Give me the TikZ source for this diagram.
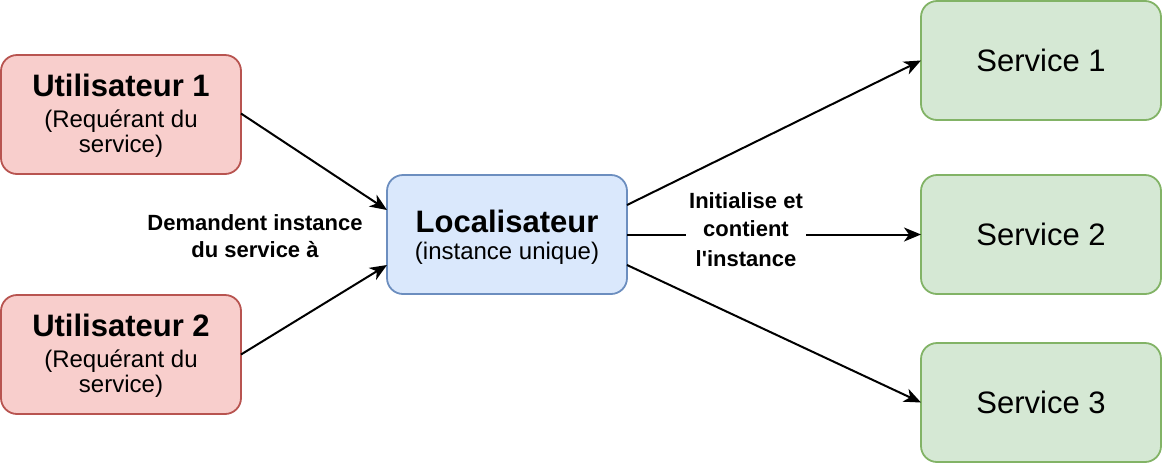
\documentclass[tikz,border=0pt]{standalone}
\usepackage{fontspec}
\setmainfont{Liberation Sans}
\usetikzlibrary{arrows.meta}
\definecolor{redfill}{HTML}{F8CECC}
\definecolor{redline}{HTML}{B85450}
\definecolor{bluefill}{HTML}{DAE8FC}
\definecolor{blueline}{HTML}{6C8EBF}
\definecolor{greenfill}{HTML}{D5E8D4}
\definecolor{greenline}{HTML}{82B366}
\tikzset{
  basebox/.style={draw, line width=1.8pt, rounded corners=16pt, minimum width=240pt, minimum height=119pt, outer sep=0pt, inner sep=0pt, align=center, text=black},
  userbox/.style={basebox, fill=redfill, draw=redline, font=\fontsize{24}{25.5}\selectfont},
  locbox/.style={basebox, fill=bluefill, draw=blueline, font=\fontsize{24}{25}\selectfont},
  servbox/.style={basebox, fill=greenfill, draw=greenline, font=\fontsize{31}{36}\selectfont},
  conn/.style={draw=black, line width=2pt, -{Stealth[length=17pt, width=14pt, inset=5pt]}},
  lbl/.style={font=\fontsize{22}{27}\selectfont\bfseries, align=center, inner sep=0pt}
}
\newcommand{\boxtitle}[2]{{\fontsize{31}{36}\selectfont\bfseries\rule{0pt}{#1}#2}}
\begin{document}
\begin{tikzpicture}[x=1pt, y=-1pt]
\useasboundingbox (0,0) rectangle (1162,464);
\node[userbox] (u1) at (121,114.5) {\boxtitle{25pt}{Utilisateur 1}\\[5pt](Requérant du\\service)};
\node[userbox] (u2) at (121,354.5) {\boxtitle{25pt}{Utilisateur 2}\\[5pt](Requérant du\\service)};
\node[locbox] (loc) at (507,234.5) {\boxtitle{27pt}{Localisateur}\\[2pt](instance unique)};
\node[servbox] (s1) at (1041,60.5) {Service 1};
\node[servbox] (s2) at (1041,234.5) {Service 2};
\node[servbox] (s3) at (1041,402.5) {Service 3};

\draw[conn] ([yshift=1pt]u1.east) -- ([yshift=24.5pt]loc.west);
\draw[conn] (u2.east) -- ([yshift=-30.5pt]loc.west);
\node[lbl] (lreq) at (255,236) {Demandent instance\\du service à};

\draw[conn] ([yshift=29.5pt]loc.east) -- (s1.west);
\draw[conn] ([yshift=-30.5pt]loc.east) -- (s3.west);
\node[lbl, font=\fontsize{22}{28}\selectfont\bfseries, fill=white, inner xsep=3pt, inner ysep=2pt] (linit) at (746,229.5) {Initialise et\\contient\\[2pt]l\textquotesingle instance};
\draw[line width=2pt] (loc.east) -- (loc.east -| linit.west);
\draw[conn] (s2.west -| linit.east) -- (s2.west);
\end{tikzpicture}
\end{document}
